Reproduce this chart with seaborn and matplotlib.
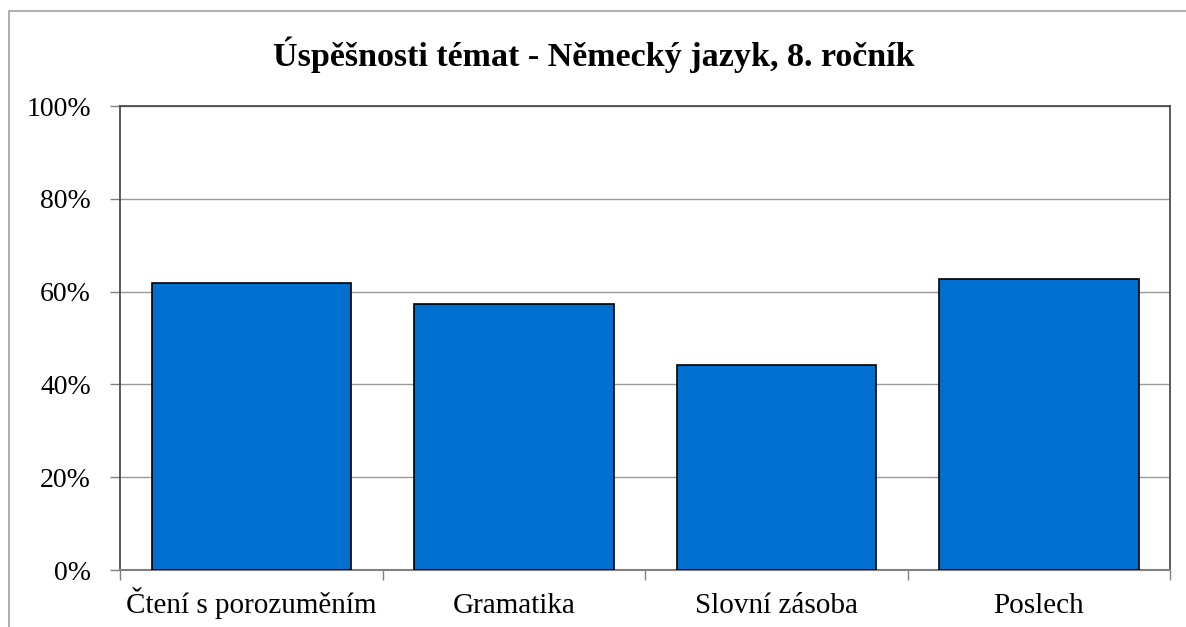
import matplotlib
matplotlib.use("Agg")
import matplotlib.pyplot as plt
import seaborn as sns
import pandas as pd
from matplotlib.ticker import FuncFormatter, FixedLocator
from matplotlib.patches import Rectangle

categories = ["Čtení s porozuměním", "Gramatika", "Slovní zásoba", "Poslech"]
values = [61.8, 57.4, 44.1, 62.7]
title = "Úspěšnosti témat - Německý jazyk, 8. ročník"

sns.set_theme(style="white")
plt.rcParams['font.family'] = ['Liberation Serif', 'DejaVu Serif']

df = pd.DataFrame({"cat": categories, "val": values})

fig = plt.figure(figsize=(11.86, 6.27), dpi=100)
ax = fig.add_axes([120/1186, 1-570/627, 1050/1186, 464/627])

sns.barplot(data=df, x="cat", y="val", ax=ax, color="#0070D0", saturation=1,
            width=0.76, edgecolor="black", linewidth=1.2, zorder=3)

ax.set_ylim(0, 100)
ax.set_xlim(-0.5, len(categories) - 0.5)
ax.yaxis.set_major_locator(FixedLocator([0, 20, 40, 60, 80, 100]))
ax.yaxis.set_major_formatter(FuncFormatter(lambda v, p: f"{int(v)}%"))
ax.grid(axis="y", color="#9a9a9a", linewidth=1.0, zorder=0)
ax.set_axisbelow(True)
ax.set_xlabel("")
ax.set_ylabel("")

for s in ["left", "top", "right"]:
    ax.spines[s].set_color("#404040")
    ax.spines[s].set_linewidth(1.2)
ax.spines["bottom"].set_color("#808080")
ax.spines["bottom"].set_linewidth(1.5)

ax.tick_params(axis="y", which="major", direction="out", length=7, width=1,
               color="#808080", labelsize=20, labelcolor="black", pad=14, left=True)
ax.xaxis.set_major_locator(FixedLocator(range(len(categories))))
ax.set_xticklabels(categories)
ax.tick_params(axis="x", which="major", length=0, labelsize=21, labelcolor="black", pad=31)
for lbl in ax.get_xticklabels():
    lbl.set_verticalalignment("baseline")
ax.set_xticks([i - 0.5 for i in range(len(categories) + 1)], minor=True)
ax.tick_params(axis="x", which="minor", direction="out", length=7, width=1,
               color="#808080", bottom=True)

fig.text(594/1186, 1-55/627, title, ha="center", va="center",
         fontsize=24.5, fontweight="bold", color="black")

fig.patches.append(Rectangle((9/1186, -0.1), 1.2, 1-11/627+0.1,
                             transform=fig.transFigure, fill=False,
                             edgecolor="#A0A0A0", linewidth=1.2, zorder=0))

fig.savefig("out.png", dpi=100)
